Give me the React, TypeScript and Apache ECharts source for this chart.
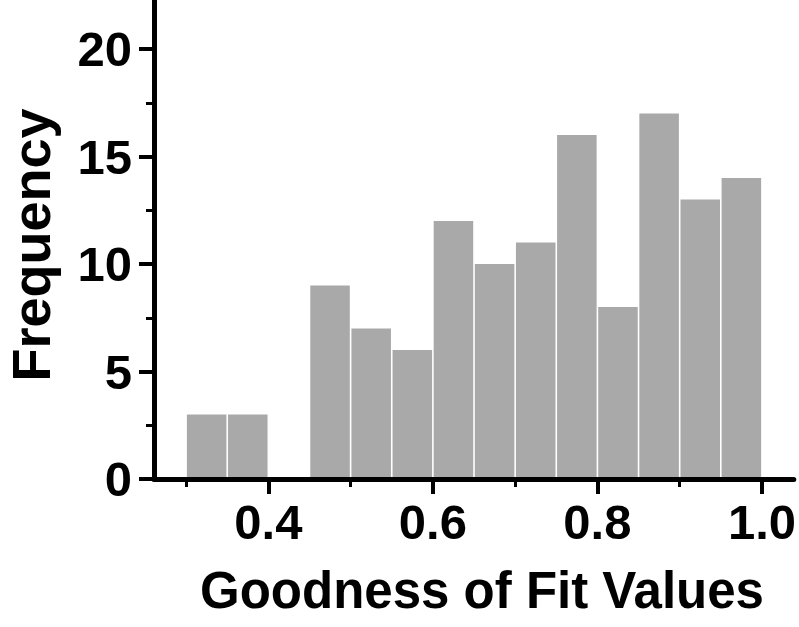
import React, { useEffect, useRef } from "react";
import * as echarts from "echarts";

const binStarts = [0.3, 0.35, 0.4, 0.45, 0.5, 0.55, 0.6, 0.65, 0.7, 0.75, 0.8, 0.85, 0.9, 0.95];
const binWidth = 0.05;
const counts = [3, 3, 0, 9, 7, 6, 12, 10, 11, 16, 8, 17, 13, 14];
const xMajorTicks = [0.4, 0.6, 0.8, 1.0];
const xMinorTicks = [0.3, 0.5, 0.7, 0.9];
const yMajorTicks = [0, 5, 10, 15, 20];
const yMinorTicks = [2.5, 7.5, 12.5, 17.5];
const xTitle = "Goodness of Fit Values";
const yTitle = "Frequency";

const FONT = "'Liberation Sans', Arial, sans-serif";

export default function App() {
  const ref = useRef<HTMLDivElement>(null);
  useEffect(() => {
    if (!ref.current) return;
    const chart = echarts.init(ref.current, undefined, { renderer: "svg" });
    const xMin = 0.261;
    const xMax = 1.0387;
    const yMin = 0;
    const yMax = 22.28;
    const data = binStarts.map((s, i) => [s, s + binWidth, counts[i]]);
    const axisCommon = { min: xMin, max: xMax, type: "value" as const, splitLine: { show: false } };
    chart.setOption({
      animation: false,
      backgroundColor: "#ffffff",
      grid: { left: 154, right: 2, top: 0, bottom: 148, containLabel: false },
      xAxis: [
        {
          ...axisCommon,
          position: "bottom",
          z: 10,
          axisLine: { show: true, lineStyle: { color: "#000", width: 5 } },
          axisTick: { show: true, customValues: xMajorTicks, length: 15, lineStyle: { color: "#000", width: 4 } },
          axisLabel: {
            show: true,
            customValues: xMajorTicks,
            formatter: (v: number) => v.toFixed(1),
            margin: 18,
            fontFamily: FONT,
            fontWeight: "bold",
            fontSize: 49,
            color: "#000",
          },
        },
        {
          ...axisCommon,
          position: "bottom",
          z: 10,
          axisLine: { show: false },
          axisTick: { show: true, customValues: xMinorTicks, length: 8, lineStyle: { color: "#000", width: 3 } },
          axisLabel: { show: false },
        },
      ],
      yAxis: [
        {
          type: "value",
          min: yMin,
          max: yMax,
          z: 10,
          splitLine: { show: false },
          axisLine: { show: true, lineStyle: { color: "#000", width: 5 } },
          axisTick: { show: true, customValues: yMajorTicks, length: 15, lineStyle: { color: "#000", width: 4 } },
          axisLabel: {
            show: true,
            customValues: yMajorTicks,
            margin: 22,
            fontFamily: FONT,
            fontWeight: "bold",
            fontSize: 49,
            color: "#000",
          },
        },
        {
          type: "value",
          min: yMin,
          max: yMax,
          z: 10,
          position: "left",
          splitLine: { show: false },
          axisLine: { show: false },
          axisTick: { show: true, customValues: yMinorTicks, length: 8, lineStyle: { color: "#000", width: 3 } },
          axisLabel: { show: false },
        },
      ],
      graphic: [
        {
          type: "text",
          x: 482,
          y: 590,
          style: {
            text: xTitle,
            font: `bold 51px ${FONT}`,
            fill: "#000",
            textAlign: "center",
            textVerticalAlign: "middle",
          },
        },
        {
          type: "text",
          x: 31,
          y: 245,
          rotation: Math.PI / 2,
          style: {
            text: yTitle,
            font: `bold 54px ${FONT}`,
            fill: "#000",
            textAlign: "center",
            textVerticalAlign: "middle",
          },
        },
      ],
      series: [
        {
          type: "custom",
          xAxisIndex: 0,
          yAxisIndex: 0,
          z: 1,
          encode: { x: [0, 1], y: 2 },
          data,
          renderItem: (params: any, api: any) => {
            const p0 = api.coord([api.value(0), 0]);
            const p1 = api.coord([api.value(1), api.value(2)]);
            const h = p0[1] - p1[1];
            if (h <= 0) return null;
            return {
              type: "rect",
              shape: { x: p0[0] + 0.8, y: p1[1], width: p1[0] - p0[0] - 1.6, height: h },
              style: { fill: "#a9a9a9" },
            };
          },
        },
      ],
    });
    return () => chart.dispose();
  }, []);
  return <div ref={ref} style={{ width: 799, height: 627, position: "absolute", left: 0, top: 0 }} />;
}
